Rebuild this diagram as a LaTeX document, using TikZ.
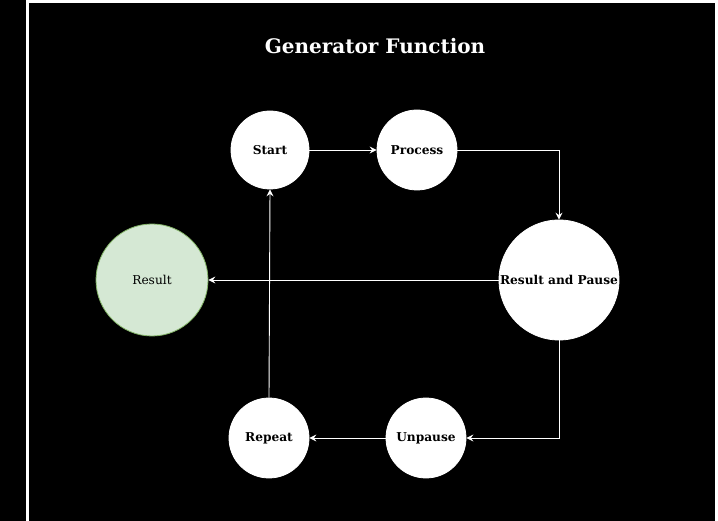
\documentclass[tikz,border=0pt]{standalone}
\usepackage{fontspec}
\setmainfont{DejaVu Serif}
\usetikzlibrary{arrows.meta}
\begin{document}
\begin{tikzpicture}[x=1pt,y=-1pt,
  state/.style={circle,fill=white,draw=white,line width=0.8pt,inner sep=0pt,font=\bfseries\fontsize{12.2}{14}\selectfont,text=black},
  flow/.style={draw=white,line width=0.9pt,-{Stealth[length=7pt,width=7pt,inset=2.5pt]}}]
\useasboundingbox (0,0) rectangle (718,521);
\fill[black] (0,0) rectangle (718,521);
\fill[white] (26,0) rectangle (29,521);
\fill[white] (29,0) rectangle (718,3);
\fill[white] (715,0) rectangle (718,521);
\node[text=white,font=\bfseries\fontsize{20}{24}\selectfont] (title) at (375,46) {Generator Function};
\node[state,minimum size=78pt] (start) at (270,150) {Start};
\node[state,minimum size=80pt] (proc) at (417,150) {Process};
\node[state,minimum size=120pt] (rap) at (559,280) {Result and Pause};
\node[circle,fill={rgb,255:red,213;green,232;blue,212},draw={rgb,255:red,130;green,179;blue,102},line width=0.8pt,minimum size=112pt,inner sep=0pt,font=\fontsize{12.2}{14}\selectfont] (res) at (152,280) {Result};
\node[state,minimum size=80pt] (unp) at (426,438) {Unpause};
\node[state,minimum size=80pt] (rep) at (269,438) {Repeat};
\draw[flow] (start) -- (proc);
\draw[flow] (proc.east) -| (rap.north);
\draw[flow] (rap.west) -- (res.east);
\draw[flow] (rap.south) |- (unp.east);
\draw[flow] (unp) -- (rep);
\draw[flow] (rep.north) -- (start.south);
\end{tikzpicture}
\end{document}
